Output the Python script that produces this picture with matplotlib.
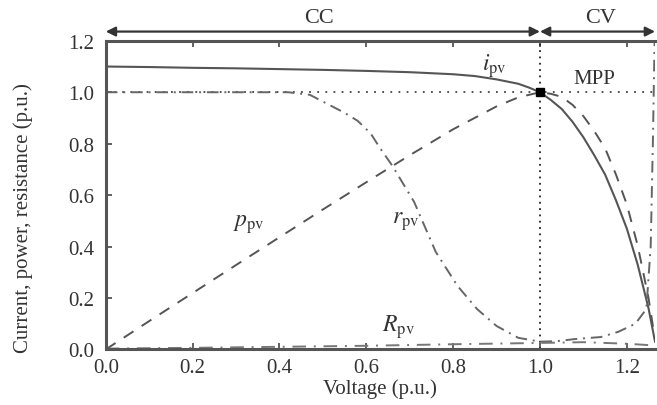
import numpy as np
import matplotlib
matplotlib.use("Agg")
import matplotlib.pyplot as plt

plt.rcParams['font.family'] = ['Liberation Serif', 'DejaVu Serif']
plt.rcParams['mathtext.fontset'] = 'stix'

# values (p.u.)
v_i = [0.0, 0.1, 0.2, 0.3, 0.4, 0.5, 0.6, 0.7, 0.8, 0.85, 0.9, 0.95, 0.975,
       1.0, 1.025, 1.05, 1.075, 1.1, 1.125, 1.15, 1.175, 1.2, 1.225, 1.25, 1.265]
i_pv = [1.10, 1.098, 1.095, 1.093, 1.09, 1.087, 1.083, 1.078, 1.07, 1.063,
        1.05, 1.033, 1.018, 1.0, 0.97, 0.935, 0.885, 0.825, 0.755, 0.68,
        0.58, 0.47, 0.33, 0.16, 0.03]

v_p = [0.0, 0.1, 0.2, 0.3, 0.4, 0.5, 0.6, 0.7, 0.8, 0.9, 0.95, 1.0, 1.025,
       1.05, 1.075, 1.1, 1.125, 1.15, 1.175, 1.2, 1.225, 1.25, 1.265]
p_pv = [0.0, 0.11, 0.219, 0.328, 0.436, 0.544, 0.65, 0.755, 0.856, 0.945,
        0.98, 1.0, 0.994, 0.982, 0.951, 0.907, 0.849, 0.782, 0.68, 0.564,
        0.404, 0.2, 0.038]

v_r = [0.0, 0.3, 0.42, 0.47, 0.51, 0.55, 0.58, 0.61, 0.63, 0.66, 0.71, 0.76,
       0.81, 0.855, 0.90, 0.95, 1.0, 1.04, 1.08, 1.14, 1.18, 1.22, 1.245,
       1.255, 1.26, 1.265]
r_pv = [1.0, 1.0, 1.0, 0.99, 0.955, 0.92, 0.889, 0.84, 0.787, 0.714, 0.574,
        0.379, 0.247, 0.157, 0.091, 0.045, 0.03, 0.032, 0.04, 0.048, 0.068,
        0.10, 0.157, 0.4, 0.8, 1.3]

v_R = [0.0, 0.2, 0.4, 0.6, 0.8, 1.0, 1.1, 1.2, 1.265]
R_pv = [0.003, 0.006, 0.01, 0.014, 0.02, 0.025, 0.028, 0.022, 0.015]

v_mpp, y_mpp = 1.0, 1.0

x_ticks = [0.0, 0.2, 0.4, 0.6, 0.8, 1.0, 1.2]
y_ticks = [0.0, 0.2, 0.4, 0.6, 0.8, 1.0, 1.2]

grey = '#555555'
txt = '#333333'

fig = plt.figure(figsize=(6.57, 4.06), dpi=100)
ax = fig.add_axes([0.161, 0.137, 0.836, 0.76])

ax.axhline(1.0, color='#444444', lw=1.3, ls=(0, (1, 3.5)))
ax.axvline(1.0, color='#222222', lw=1.3, ls=(0, (1, 2.5)))

ax.plot(v_i, i_pv, color=grey, lw=1.5)
ax.plot(v_p, p_pv, color=grey, lw=1.4, ls=(0, (6, 5)))
ax.plot(v_r, r_pv, color='#666666', lw=1.4, ls=(0, (6, 3, 1, 3)))
ax.plot(v_R, R_pv, color='#777777', lw=1.4, ls=(0, (7, 4, 1, 4)))
ax.plot([v_mpp], [y_mpp], 's', color='black', ms=6)

ax.set_xlim(0, 1.265)
ax.set_ylim(0, 1.2)
ax.set_xticks(x_ticks)
ax.set_yticks(y_ticks)
ax.set_xticklabels(['%.1f' % t for t in x_ticks])
ax.set_yticklabels(['%.1f' % t for t in y_ticks])
ax.tick_params(direction='in', top=True, length=4, width=1.3, colors=grey,
               labelcolor=txt, labelsize=15)
ax.tick_params(axis='x', pad=6)
ax.tick_params(axis='y', pad=8)
for s in ['left', 'bottom', 'top']:
    ax.spines[s].set_color(grey)
    ax.spines[s].set_linewidth(2.2)
ax.spines['right'].set_visible(False)

ax.set_xlabel('Voltage (p.u.)', fontsize=15, color=txt, labelpad=1)
ax.set_ylabel('Current, power, resistance (p.u.)', fontsize=15, color=txt)
ax.yaxis.set_label_coords(-0.133, 0.43)

ax.text(0.895, 1.105, r'$i_{\rm pv}$', fontsize=17, color=txt, ha='center', va='center')
ax.text(1.125, 1.055, 'MPP', fontsize=15, color=txt, ha='center', va='center')
ax.text(0.33, 0.49, r'$p_{\rm pv}$', fontsize=17, color=txt, ha='center', va='center')
ax.text(0.69, 0.50, r'$r_{\rm pv}$', fontsize=17, color=txt, ha='center', va='center')
ax.text(0.675, 0.09, r'$R_{\rm pv}$', fontsize=17, color=txt, ha='center', va='center')

# CC / CV region arrows above the axes
arr = dict(arrowstyle='<|-|>', color='#333333', lw=1.6,
           mutation_scale=14, shrinkA=0, shrinkB=0)
ax.annotate('', xy=(0.0, 1.236), xytext=(1.0, 1.236), arrowprops=arr,
            annotation_clip=False)
ax.annotate('', xy=(1.0, 1.236), xytext=(1.265, 1.236), arrowprops=arr,
            annotation_clip=False)
ax.text(0.49, 1.29, 'CC', fontsize=16, color=txt, ha='center', va='center', clip_on=False)
ax.text(1.14, 1.29, 'CV', fontsize=16, color=txt, ha='center', va='center', clip_on=False)

fig.savefig('out.png', dpi=100)
